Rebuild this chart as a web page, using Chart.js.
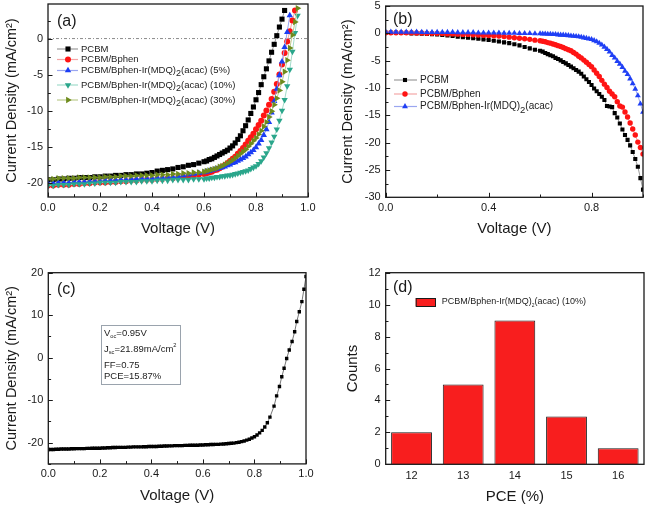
<!DOCTYPE html>
<html><head><meta charset="utf-8">
<script src="https://cdn.jsdelivr.net/npm/chart.js@4.4.0/dist/chart.umd.min.js"></script>
<style>
html,body{margin:0;padding:0;background:#fff;}
#wrap{position:relative;width:647px;height:508px;overflow:hidden;background:#fff;}
canvas{position:absolute;display:block;}
</style></head><body>
<div id="wrap">
<canvas id="ca" width="323" height="250" style="left:0;top:0"></canvas>
<canvas id="cb" width="324" height="250" style="left:323px;top:0"></canvas>
<canvas id="cc" width="323" height="258" style="left:0;top:250px"></canvas>
<canvas id="cd" width="324" height="258" style="left:323px;top:250px"></canvas>
</div>
<script>
// ---------------- DATA ----------------
// Panel (a)
const namesA = ['PCBM','PCBM/Bphen','PCBM/Bphen-Ir(MDQ)₂(acac) (5%)','PCBM/Bphen-Ir(MDQ)₂(acac) (10%)','PCBM/Bphen-Ir(MDQ)₂(acac) (30%)'];
const voltA = [0,0.02,0.04,0.06,0.08,0.10,0.12,0.14,0.16,0.18,0.20,0.22,0.24,0.26,0.28,0.30,0.32,0.34,0.36,0.38,0.40,0.42,0.44,0.46,0.48,0.50,0.52,0.54,0.56,0.58,
  0.60,0.61,0.62,0.63,0.64,0.65,0.66,0.67,0.68,0.69,0.70,0.71,0.72,0.73,0.74,0.75,0.76,0.77,0.78,0.79,0.80,0.81,0.82,0.83,0.84,0.85,0.86,0.87,0.88,0.89,0.90,0.91,0.92,0.93,0.94,0.95,0.96];
const pcbmA = [-19.6,-19.6,-19.5,-19.5,-19.4,-19.4,-19.3,-19.3,-19.3,-19.2,-19.2,-19.1,-19.1,-19.0,-19.0,-18.9,-18.9,-18.8,-18.8,-18.7,-18.6,-18.4,-18.3,-18.2,-18.1,-17.9,-17.8,-17.6,-17.5,-17.3,
  -17.1,-17.0,-16.8,-16.7,-16.5,-16.3,-16.1,-15.9,-15.7,-15.5,-15.2,-14.9,-14.5,-14.0,-13.5,-12.8,-12.1,-11.3,-10.4,-9.5,-8.5,-7.5,-6.4,-5.3,-4.2,-3.1,-1.9,-0.8,0.4,1.6,2.7,3.9,null,null,null,null,null];
const bphenA = [-20.4,-20.4,-20.3,-20.3,-20.3,-20.2,-20.2,-20.1,-20.1,-20.0,-20.0,-20.0,-19.9,-19.9,-19.8,-19.8,-19.7,-19.7,-19.6,-19.6,-19.6,-19.5,-19.5,-19.4,-19.4,-19.3,-19.2,-19.1,-19.0,-18.9,
  -18.8,-18.7,-18.6,-18.5,-18.3,-18.2,-18.0,-17.8,-17.6,-17.3,-17.0,-16.7,-16.4,-16.0,-15.6,-15.2,-14.7,-14.2,-13.7,-13.2,-12.6,-12.0,-11.4,-10.7,-10.0,-9.2,-8.4,-7.4,-6.3,-5.0,-3.6,-2.0,-0.4,1.0,2.5,3.9,null];
const ir5A = [-20.1,-20.1,-20.0,-20.0,-20.0,-19.9,-19.9,-19.9,-19.8,-19.8,-19.8,-19.7,-19.7,-19.6,-19.6,-19.6,-19.5,-19.5,-19.4,-19.4,-19.4,-19.3,-19.3,-19.2,-19.2,-19.1,-19.0,-18.9,-18.8,-18.7,
  -18.6,-18.5,-18.4,-18.3,-18.2,-18.1,-18.0,-17.9,-17.8,-17.6,-17.5,-17.3,-17.2,-17.0,-16.8,-16.6,-16.4,-16.1,-15.8,-15.5,-15.1,-14.6,-14.1,-13.4,-12.6,-11.6,-10.3,-8.7,-7.0,-5.1,-3.2,-1.2,0.9,3.2,null,null,null];
const ir10A = [-20.4,-20.4,-20.3,-20.3,-20.3,-20.2,-20.2,-20.2,-20.1,-20.1,-20.0,-20.0,-20.0,-20.0,-19.9,-19.9,-19.9,-19.9,-19.8,-19.8,-19.8,-19.7,-19.7,-19.7,-19.6,-19.6,-19.6,-19.6,-19.5,-19.5,
  -19.5,-19.4,-19.4,-19.3,-19.3,-19.2,-19.2,-19.1,-19.1,-19.0,-19.0,-18.9,-18.8,-18.7,-18.6,-18.5,-18.4,-18.3,-18.1,-17.9,-17.7,-17.4,-17.0,-16.5,-15.9,-15.2,-14.4,-13.6,-12.6,-11.4,-10.0,-8.5,-6.6,-4.3,-1.8,0.8,3.2];
const ir30A = [-19.5,-19.5,-19.4,-19.4,-19.4,-19.4,-19.3,-19.3,-19.3,-19.3,-19.3,-19.2,-19.2,-19.2,-19.1,-19.1,-19.1,-19.0,-19.0,-19.0,-19.0,-18.9,-18.9,-18.9,-18.8,-18.8,-18.7,-18.7,-18.6,-18.6,
  -18.5,-18.4,-18.3,-18.2,-18.1,-18.0,-17.8,-17.7,-17.5,-17.3,-17.1,-16.9,-16.6,-16.3,-16.0,-15.7,-15.4,-15.0,-14.6,-14.2,-13.8,-13.3,-12.8,-12.2,-11.6,-10.9,-10.1,-9.2,-8.3,-7.2,-6.0,-4.6,-3.0,-1.3,0.5,2.3,4.2];
const xTicksA = [0,0.2,0.4,0.6,0.8,1.0];
const yTicksA = [-20,-15,-10,-5,0];

// Panel (b)
const namesB = ['PCBM','PCBM/Bphen','PCBM/Bphen-Ir(MDQ)₂(acac)'];
const voltB = [0,0.02,0.04,0.06,0.08,0.10,0.12,0.14,0.16,0.18,0.20,0.22,0.24,0.26,0.28,0.30,0.32,0.34,0.36,0.38,0.40,0.42,0.44,0.46,0.48,0.50,0.52,0.54,0.56,0.58,
  0.60,0.61,0.62,0.63,0.64,0.65,0.66,0.67,0.68,0.69,0.70,0.71,0.72,0.73,0.74,0.75,0.76,0.77,0.78,0.79,0.80,0.81,0.82,0.83,0.84,0.85,0.86,0.87,0.88,0.89,0.90,0.91,0.92,0.93,0.94,0.95,0.96,0.97,0.98,0.99,1.00];
const pcbmB = [0.1,0.1,0.1,0.05,0.05,0.0,0.0,-0.05,-0.1,-0.15,-0.2,-0.3,-0.4,-0.5,-0.6,-0.7,-0.8,-0.9,-1.0,-1.1,-1.2,-1.35,-1.5,-1.65,-1.8,-2.0,-2.2,-2.5,-2.75,-3.0,
  -3.2,-3.35,-3.6,-3.8,-4.0,-4.2,-4.5,-4.7,-4.95,-5.25,-5.5,-5.8,-6.1,-6.4,-6.7,-7.0,-7.4,-7.9,-8.4,-8.9,-9.45,-10.1,-10.6,-11.1,-11.6,-12.2,-13.3,-13.4,-13.5,-14.6,-15.4,-16.5,-17.6,-18.6,-19.5,-20.5,-21.7,-23.0,-24.4,-26.5,-28.6];
const bphenB = [0.1,0.1,0.1,0.1,0.1,0.1,0.05,0.05,0.0,0.0,0.0,-0.05,-0.1,-0.1,-0.15,-0.2,-0.2,-0.25,-0.3,-0.35,-0.4,-0.45,-0.5,-0.6,-0.7,-0.8,-0.9,-1.0,-1.1,-1.25,
  -1.35,-1.45,-1.55,-1.7,-1.8,-1.95,-2.1,-2.25,-2.4,-2.6,-2.8,-3.0,-3.2,-3.5,-3.8,-4.2,-4.5,-4.9,-5.3,-5.7,-6.1,-6.7,-7.3,-7.9,-8.6,-9.3,-9.9,-10.6,-11.1,-11.6,-12.5,-13.3,-13.5,-14.4,-15.3,-16.4,-17.5,-18.6,-19.9,-20.9,-22.1];
const irB = [0.25,0.25,0.25,0.25,0.25,0.25,0.25,0.2,0.2,0.2,0.2,0.2,0.2,0.2,0.15,0.15,0.15,0.15,0.1,0.1,0.1,0.1,0.1,0.05,0.05,0.05,0.0,0.0,0.0,-0.05,
  -0.05,-0.1,-0.1,-0.15,-0.15,-0.2,-0.2,-0.25,-0.3,-0.3,-0.35,-0.4,-0.45,-0.5,-0.55,-0.6,-0.7,-0.8,-0.9,-1.0,-1.1,-1.3,-1.5,-1.8,-2.1,-2.5,-2.9,-3.4,-4.0,-4.5,-5.1,-5.6,-6.2,-6.9,-7.5,-8.3,-9.2,-10.2,-11.4,-12.9,-14.4];
const xTicksB = [0,0.4,0.8];
const yTicksB = [-30,-25,-20,-15,-10,-5,0,5];

// Panel (c)
const voltC = [0,0.01,0.02,0.03,0.04,0.05,0.06,0.07,0.08,0.09,0.10,0.11,0.12,0.13,0.14,0.15,0.16,0.17,0.18,0.19,
  0.20,0.21,0.22,0.23,0.24,0.25,0.26,0.27,0.28,0.29,0.30,0.31,0.32,0.33,0.34,0.35,0.36,0.37,0.38,0.39,
  0.40,0.41,0.42,0.43,0.44,0.45,0.46,0.47,0.48,0.49,0.50,0.51,0.52,0.53,0.54,0.55,0.56,0.57,0.58,0.59,
  0.60,0.61,0.62,0.63,0.64,0.65,0.66,0.67,0.68,0.69,0.70,0.71,0.72,0.73,0.74,0.75,0.76,0.77,0.78,0.79,
  0.80,0.81,0.82,0.83,0.84,0.85,0.86,
  0.876,0.886,0.897,0.906,0.915,0.925,0.935,0.946,0.956,0.964,0.974,0.984,0.992,1.0];
const jC = [-21.6,-21.6,-21.6,-21.55,-21.55,-21.5,-21.5,-21.5,-21.5,-21.45,-21.45,-21.4,-21.4,-21.4,-21.4,-21.35,-21.35,-21.3,-21.3,-21.3,
  -21.3,-21.25,-21.25,-21.2,-21.2,-21.15,-21.15,-21.1,-21.1,-21.1,-21.1,-21.05,-21.05,-21.0,-21.0,-21.0,-21.0,-20.95,-20.95,-20.9,
  -20.9,-20.9,-20.9,-20.85,-20.85,-20.8,-20.8,-20.75,-20.75,-20.7,-20.7,-20.7,-20.7,-20.65,-20.65,-20.6,-20.6,-20.6,-20.6,-20.55,
  -20.55,-20.5,-20.5,-20.45,-20.45,-20.4,-20.4,-20.35,-20.3,-20.25,-20.2,-20.15,-20.1,-20.0,-19.9,-19.75,-19.6,-19.4,-19.2,-18.9,
  -18.6,-18.2,-17.7,-17.1,-16.3,-15.3,-14.0,
  -11.4,-9.0,-6.8,-4.5,-2.5,-0.2,1.8,3.8,6.1,8.5,10.8,13.2,16.1,19.1];
const boxC = ['V_{oc}=0.95V','J_{sc}=21.89mA/cm^{2}','FF=0.75','PCE=15.87%'];
const xTicksC = [0,0.2,0.4,0.6,0.8,1.0];
const yTicksC = [-20,-10,0,10,20];

// Panel (d)
const nameD = 'PCBM/Bphen-Ir(MDQ)₂(acac) (10%)';
const pceBins = ['12','13','14','15','16'];
const countsD = [2,5,9,3,1];
const yTicksD = [0,2,4,6,8,10,12];

// ---------------- DRAWING ----------------
const FONT = "'Liberation Sans', Arial, Helvetica, sans-serif";
Chart.defaults.font.family = FONT;
Chart.defaults.color = '#1a1a1a';
const TXT = '#1a1a1a';

function pts(xs, ys){ const o=[]; for(let i=0;i<xs.length;i++){ if(ys[i]!==null && ys[i]!==undefined) o.push({x:xs[i],y:ys[i]}); } return o; }

function richSegs(str){
  const segs=[]; let buf='', i=0;
  while(i<str.length){
    const c=str[i];
    if((c==='_'||c==='^') && str[i+1]==='{'){
      if(buf){segs.push({t:buf,m:0});buf='';}
      const j=str.indexOf('}',i);
      segs.push({t:str.slice(i+2,j),m:c==='_'?1:2}); i=j+1; continue;
    }
    if(c==='₂'){ if(buf){segs.push({t:buf,m:0});buf='';} segs.push({t:'2',m:1}); i++; continue; }
    buf+=c; i++;
  }
  if(buf) segs.push({t:buf,m:0});
  return segs;
}
function drawRich(ctx, str, x, y, size, sub){
  ctx.textBaseline='middle'; ctx.textAlign='left'; ctx.fillStyle='#222';
  for(const s of richSegs(str)){
    const sz = s.m ? size*(s.m===1?sub.scale:0.6) : size;
    ctx.font = sz+'px '+FONT;
    const dy = s.m===1 ? size*sub.dy : (s.m===2 ? -size*0.38 : 0);
    ctx.fillText(s.t, x, y+dy);
    x += ctx.measureText(s.t).width;
  }
}
function marker(ctx, ds, x, y){
  ctx.fillStyle = ds.pointBackgroundColor; ctx.strokeStyle = ds.pointBorderColor || ds.pointBackgroundColor;
  const opt = {pointStyle: ds.pointStyle, rotation: ds.pointRotation||0, radius: ds.pointRadius, borderWidth: 0};
  if (Chart.helpers && Chart.helpers.drawPoint) { Chart.helpers.drawPoint(ctx, opt, x, y); }
}

const decor = {
  id:'decor',
  afterDraw(chart, args, o){
    const ctx = chart.ctx, a = chart.chartArea;
    ctx.save();
    ctx.strokeStyle='#1a1a1a'; ctx.lineWidth=1;
    const xs = chart.scales.x, ys = chart.scales.y;
    if (o.xMinor){
      const n = Math.round((xs.max - xs.min)/o.xMinor);
      for(let k=0;k<=n;k++){
        const v = xs.min + k*o.xMinor;
        const major = Math.abs(v/o.xMajor - Math.round(v/o.xMajor))<1e-6;
        const px = Math.round(xs.getPixelForValue(v))+0.5;
        ctx.beginPath(); ctx.moveTo(px, a.bottom); ctx.lineTo(px, a.bottom-(major?4.5:2.8)); ctx.stroke();
      }
    }
    if (o.yMinor){
      const start = Math.ceil(ys.min/o.yMinor-1e-9)*o.yMinor;
      for(let v=start; v<=ys.max+1e-9; v+=o.yMinor){
        const major = Math.abs(v/o.yMajor - Math.round(v/o.yMajor))<1e-6;
        const py = Math.round(ys.getPixelForValue(v))+0.5;
        ctx.beginPath(); ctx.moveTo(a.left, py); ctx.lineTo(a.left+(major?4.5:2.8), py); ctx.stroke();
      }
    }
    ctx.strokeStyle='#1a1a1a'; ctx.lineWidth=1.3;
    ctx.strokeRect(a.left, a.top, a.right-a.left, a.bottom-a.top);
    if (o.label){
      ctx.fillStyle='#1a1a1a'; ctx.font='16px '+FONT; ctx.textBaseline='middle'; ctx.textAlign='left';
      ctx.fillText(o.label.text, o.label.x, o.label.y);
    }
    if (o.legend){
      const L = o.legend;
      L.rows.forEach((r)=>{
        const ds = chart.data.datasets[r.ds];
        if (L.type==='box'){
          ctx.fillStyle = ds.backgroundColor; ctx.strokeStyle='#1a1a1a'; ctx.lineWidth=1;
          ctx.fillRect(L.x0, r.y-4, L.x1-L.x0, 8); ctx.strokeRect(L.x0+0.5, r.y-4+0.5, L.x1-L.x0-1, 8);
        } else {
          ctx.strokeStyle = ds.borderColor; ctx.lineWidth=1.2;
          ctx.beginPath(); ctx.moveTo(L.x0, r.y); ctx.lineTo(L.x1, r.y); ctx.stroke();
          marker(ctx, ds, L.xm, r.y);
        }
        drawRich(ctx, ds.label, L.tx, r.y, L.size, L.sub);
      });
    }
    if (o.box){
      const B=o.box;
      ctx.strokeStyle='#9aa3ad'; ctx.lineWidth=1;
      ctx.strokeRect(B.x+0.5, B.y+0.5, B.w, B.h);
      B.lines.forEach((t,i)=> drawRich(ctx, t, B.tx, B.ys[i], B.size, {scale:0.6, dy:0.3}));
    }
    ctx.restore();
  }
};

function fitter(side, size){
  return function(s){
    if (side==='left') s.width = size; else s.height = size;
    s.paddingTop=0; s.paddingBottom=0; s.paddingLeft=0; s.paddingRight=0;
  };
}
function linAxis(o){
  return {
    type:'linear', position:o.pos, min:o.min, max:o.max,
    grid:{display:false, drawTicks:false}, border:{display:false},
    ticks:{padding:o.pad, font:{size:11}, color:TXT, callback:o.fmt, autoSkip:false, maxRotation:0},
    title:{display:true, text:o.title, font:{size:o.tsize}, padding:o.tpad, color:TXT},
    afterBuildTicks: s => { s.ticks = o.ticks.map(v=>({value:v})); },
    afterFit: fitter(o.pos, o.size)
  };
}
const fmt1 = v => Number(v).toFixed(1);
const fmt0 = v => String(v);
const baseOpts = {responsive:false, animation:false, events:[], plugins:{legend:{display:false}, tooltip:{enabled:false}}};

function series(label, xs, ys, style, rot, r, color, line, order){
  return {label, data:pts(xs,ys), showLine:true, borderColor:line, borderWidth:1,
    pointStyle:style, pointRotation:rot, pointRadius:r, pointBackgroundColor:color, pointBorderColor:color, pointBorderWidth:0, order};
}

// Panel (a)
const stylesA = [['rect',0,3.6,'#000000','#9a9a9a'],['circle',0,3.0,'#ff1414','#f3a6a6'],['triangle',0,3.7,'#1b3df5','#9aa6f0'],['triangle',180,3.7,'#2aa68b','#a2dccb'],['triangle',90,3.7,'#6e8b1c','#bccb8e']];
const seriesA = [pcbmA,bphenA,ir5A,ir10A,ir30A];
const dsA = seriesA.map((ys,i)=>series(namesA[i], voltA, ys, stylesA[i][0], stylesA[i][1], stylesA[i][2], stylesA[i][3], stylesA[i][4], 10-i));
dsA.push({label:'zero', data:[{x:0,y:0},{x:1,y:0}], showLine:true, borderColor:'#8a8a8a', borderWidth:1, borderDash:[3,2,1,2], pointRadius:0, order:20});
new Chart(document.getElementById('ca'), {
  type:'scatter', data:{datasets:dsA},
  options:Object.assign({}, baseOpts, {
    layout:{padding:{left:0,top:1,right:15,bottom:0}},
    plugins:Object.assign({}, baseOpts.plugins, {decor:{
      xMinor:0.1, xMajor:0.2, yMinor:2.5, yMajor:5,
      label:{text:'(a)', x:57, y:22},
      legend:{x0:57, x1:78, xm:68, tx:81, size:9.5, sub:{scale:0.95, dy:0.35}, rows:[{ds:0,y:49},{ds:1,y:59.5},{ds:2,y:70.5},{ds:3,y:85},{ds:4,y:100}]}
    }}),
    scales:{
      x:linAxis({pos:'bottom', min:0, max:1, ticks:xTicksA, fmt:fmt1, pad:4, title:'Voltage (V)', tsize:15, tpad:12, size:53}),
      y:linAxis({pos:'left', min:-22, max:4.8, ticks:yTicksA, fmt:fmt0, pad:5, title:'Current Density (mA/cm²)', tsize:14.5, tpad:3.3, size:48})
    }
  }),
  plugins:[decor]
});

// Panel (b)
const stylesB = [['rect',0,2.9,'#000000','#9a9a9a'],['circle',0,2.7,'#ff1414','#f3a6a6'],['triangle',0,3.4,'#1f3ff5','#9aa6f0']];
const seriesB = [pcbmB,bphenB,irB];
const dsB = seriesB.map((ys,i)=>series(namesB[i], voltB, ys, stylesB[i][0], stylesB[i][1], stylesB[i][2], stylesB[i][3], stylesB[i][4], 10-i));
new Chart(document.getElementById('cb'), {
  type:'scatter', data:{datasets:dsB},
  options:Object.assign({}, baseOpts, {
    layout:{padding:{left:0,top:6,right:3,bottom:0}},
    plugins:Object.assign({}, baseOpts.plugins, {decor:{
      xMinor:0.2, xMajor:0.4, yMinor:2.5, yMajor:5,
      label:{text:'(b)', x:70, y:20},
      legend:{x0:71, x1:94, xm:82, tx:97, size:10, sub:{scale:0.95, dy:0.35}, rows:[{ds:0,y:80},{ds:1,y:94},{ds:2,y:106.5}]}
    }}),
    scales:{
      x:linAxis({pos:'bottom', min:0, max:1, ticks:xTicksB, fmt:fmt1, pad:4, title:'Voltage (V)', tsize:15, tpad:12, size:52.7}),
      y:linAxis({pos:'left', min:-30, max:5, ticks:yTicksB, fmt:fmt0, pad:5, title:'Current Density (mA/cm²)', tsize:14.5, tpad:16.3, size:62.7})
    }
  }),
  plugins:[decor]
});

// Panel (c)
const dsC = [series('PCBM/Bphen-Ir(MDQ)₂(acac) (10%)', voltC, jC, 'rect', 0, 2.4, '#000000', '#777777', 1)];
new Chart(document.getElementById('cc'), {
  type:'scatter', data:{datasets:dsC},
  options:Object.assign({}, baseOpts, {
    layout:{padding:{left:0,top:22.7,right:17,bottom:0}},
    plugins:Object.assign({}, baseOpts.plugins, {decor:{
      xMinor:0.1, xMajor:0.2, yMinor:5, yMajor:10,
      label:{text:'(c)', x:57, y:39.5},
      box:{x:101, y:75, w:79, h:59, tx:104, size:9.5, ys:[83.3,99.3,115,126.7], lines:boxC}
    }}),
    scales:{
      x:linAxis({pos:'bottom', min:0, max:1, ticks:xTicksC, fmt:fmt1, pad:3, title:'Voltage (V)', tsize:15, tpad:3, size:44.1}),
      y:linAxis({pos:'left', min:-25, max:20, ticks:yTicksC, fmt:fmt0, pad:5, title:'Current Density (mA/cm²)', tsize:14.5, tpad:3, size:48.3})
    }
  }),
  plugins:[decor]
});

// Panel (d)
new Chart(document.getElementById('cd'), {
  type:'bar',
  data:{labels:pceBins, datasets:[{label:nameD, data:countsD, backgroundColor:'#f81e1e', borderColor:'#1a1a1a', borderWidth:1, barPercentage:0.79, categoryPercentage:1}]},
  options:Object.assign({}, baseOpts, {
    layout:{padding:{left:0,top:22.7,right:3,bottom:0}},
    plugins:Object.assign({}, baseOpts.plugins, {decor:{
      yMinor:1, yMajor:2,
      label:{text:'(d)', x:70, y:37.5},
      legend:{type:'box', x0:92.7, x1:113, tx:118.7, size:9, sub:{scale:0.55, dy:0.4}, rows:[{ds:0,y:52}]}
    }}),
    scales:{
      x:{type:'category', offset:true, grid:{display:false, drawTicks:false}, border:{display:false},
         ticks:{padding:5, font:{size:11}, color:TXT},
         title:{display:true, text:'PCE (%)', font:{size:15}, padding:2.3, color:TXT},
         afterFit: fitter('bottom', 43.7)},
      y:linAxis({pos:'left', min:0, max:12, ticks:yTicksD, fmt:fmt0, pad:5, title:'Counts', tsize:15, tpad:21, size:62.7})
    }
  }),
  plugins:[decor]
});
</script>
</body></html>
